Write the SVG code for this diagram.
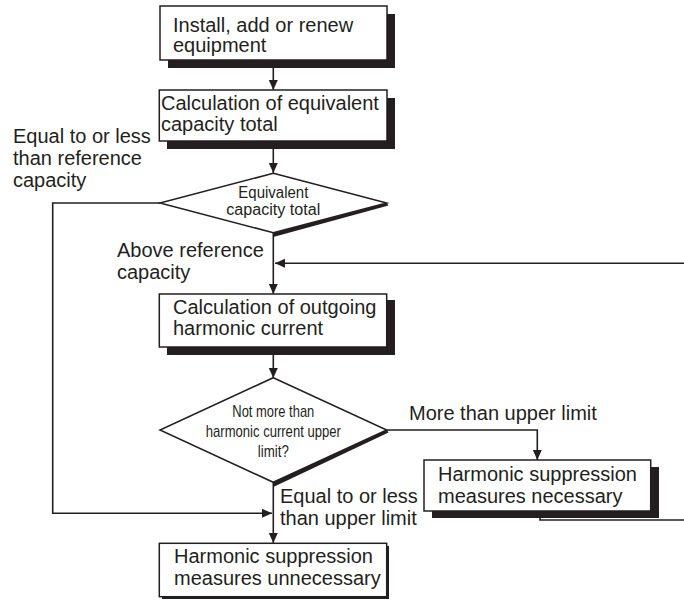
<svg xmlns="http://www.w3.org/2000/svg" width="684" height="601" viewBox="0 0 684 601">
<defs>
<style>
.box{fill:#fff;stroke:#231f20;stroke-width:1.5}
.shadow{fill:#231f20}
.dia{fill:#fff;stroke:#231f20;stroke-width:1.5}
.t{font-family:"Liberation Sans",Arial,sans-serif;font-size:20px;fill:#231f20}
.n{font-family:"Liberation Sans",Arial,sans-serif;font-size:17px;fill:#231f20;text-anchor:middle}
.m{font-family:"Liberation Sans",Arial,sans-serif;font-size:16px;fill:#231f20;text-anchor:middle}
.c{fill:none;stroke:#231f20;stroke-width:1.6}
</style>
<marker id="ah" markerUnits="userSpaceOnUse" markerWidth="10" markerHeight="10" refX="10" refY="4.5" orient="auto" viewBox="0 0 10 9">
<path d="M0,0 L10,4.5 L0,9 z" fill="#231f20"/>
</marker>
</defs>
<rect width="684" height="601" fill="#fff"/>

<g id="connectors">
<path class="c" d="M273.3,67 V90" marker-end="url(#ah)"/>
<path class="c" d="M273.3,149 V173" marker-end="url(#ah)"/>
<path class="c" d="M273.3,233 V294" marker-end="url(#ah)"/>
<path class="c" d="M684,263.3 H275" marker-end="url(#ah)"/>
<path class="c" d="M273.3,355 V378" marker-end="url(#ah)"/>
<path class="c" d="M273.3,482 V543" marker-end="url(#ah)"/>
<path class="c" d="M160,203 H52.7 V513.3 H272" marker-end="url(#ah)"/>
<path class="c" d="M386.7,430 H537.3 V460" marker-end="url(#ah)"/>
<path class="c" d="M540,511 V520 H684"/>
</g>

<g id="n1">
<rect class="shadow" x="168" y="14" width="227" height="54"/>
<rect class="box" x="160" y="6" width="227" height="54"/>
<text class="t" x="173" y="32">Install, add or renew</text>
<text class="t" x="173" y="52">equipment</text>
</g>

<g id="n2">
<rect class="shadow" x="167" y="98" width="228" height="51"/>
<rect class="box" x="159.3" y="90" width="227.7" height="51"/>
<text class="t" x="161" y="110">Calculation of equivalent</text>
<text class="t" x="161" y="131">capacity total</text>
</g>

<g id="d1">
<polygon class="shadow" points="386.7,203 273.3,232.7 273.3,237 388.5,205.5"/>
<polygon class="dia" points="273.3,173.3 386.7,203 273.3,232.7 160,203"/>
<text class="m" x="273.3" y="198" textLength="70" lengthAdjust="spacingAndGlyphs">Equivalent</text>
<text class="m" x="273.3" y="215" textLength="94" lengthAdjust="spacingAndGlyphs">capacity total</text>
</g>

<g id="n3">
<rect class="shadow" x="167" y="300" width="228" height="55"/>
<rect class="box" x="159.3" y="294" width="227.4" height="53"/>
<text class="t" x="173" y="314">Calculation of outgoing</text>
<text class="t" x="173" y="335">harmonic current</text>
</g>

<g id="d2">
<polygon class="shadow" points="386.7,430 273.3,482.3 273.3,487 388.5,432.5"/>
<polygon class="dia" points="273.3,377.7 386.7,430 273.3,482.3 160,430"/>
<text class="n" x="273.3" y="416.7" textLength="82" lengthAdjust="spacingAndGlyphs">Not more than</text>
<text class="n" x="273.3" y="436.7" textLength="135" lengthAdjust="spacingAndGlyphs">harmonic current upper</text>
<text class="n" x="273.3" y="456.7" textLength="31" lengthAdjust="spacingAndGlyphs">limit?</text>
</g>

<g id="n4">
<rect class="shadow" x="432" y="467" width="227" height="51"/>
<rect class="box" x="424" y="460" width="226.7" height="51"/>
<text class="t" x="438" y="481">Harmonic suppression</text>
<text class="t" x="438" y="503">measures necessary</text>
</g>

<g id="n5">
<rect class="shadow" x="162" y="546" width="227" height="53"/>
<rect class="box" x="159.3" y="543.3" width="227.4" height="53.4"/>
<text class="t" x="174" y="563">Harmonic suppression</text>
<text class="t" x="174" y="585">measures unnecessary</text>
</g>

<g id="labels">
<text class="t" x="13" y="143">Equal to or less</text>
<text class="t" x="13" y="165">than reference</text>
<text class="t" x="13" y="187">capacity</text>
<text class="t" x="117" y="257">Above reference</text>
<text class="t" x="117" y="279">capacity</text>
<text class="t" x="409" y="420">More than upper limit</text>
<text class="t" x="280" y="503">Equal to or less</text>
<text class="t" x="280" y="525">than upper limit</text>
</g>
</svg>
